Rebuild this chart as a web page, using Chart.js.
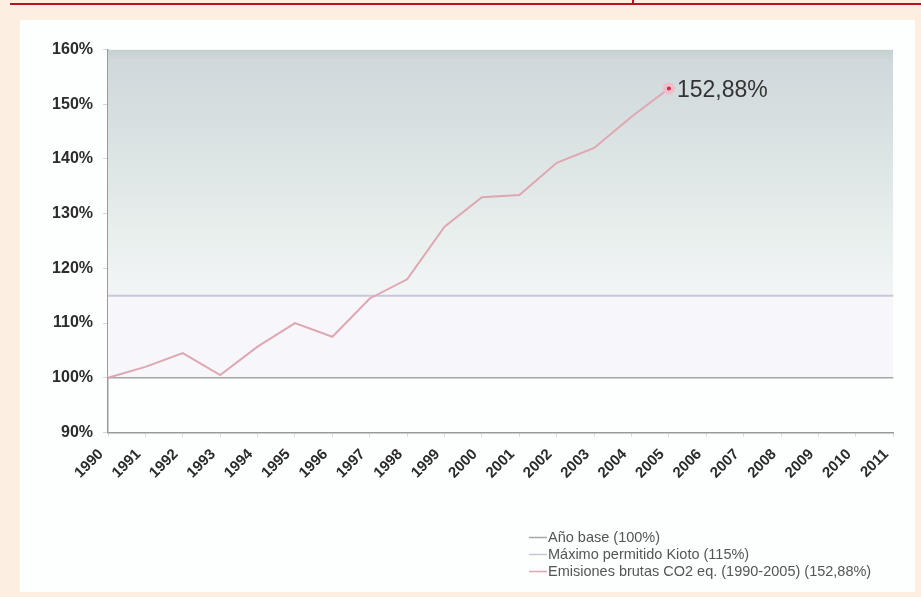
<!DOCTYPE html>
<html lang="es">
<head>
<meta charset="utf-8">
<script src="https://cdn.jsdelivr.net/npm/chart.js@4/dist/chart.umd.min.js"></script>
<style>
  html, body { margin: 0; padding: 0; }
  body { width: 921px; height: 597px; background: #fcefe2; position: relative; overflow: hidden; }
  .raya { position: absolute; left: 10px; right: 0; top: 3px; height: 2px; background: #b8121c; }
  .marca { position: absolute; left: 632px; top: 0; width: 2px; height: 5px; background: #b8121c; }
  .panel { position: absolute; left: 20px; top: 20px; width: 895px; height: 572px; background: #fdfefe; }
  #grafico { display: block; }
</style>
</head>
<body>
<div class="raya"></div>
<div class="marca"></div>
<div class="panel"><canvas id="grafico" width="895" height="572"></canvas></div>
<script>
// años del eje X
const ANIOS = ["1990", "1991", "1992", "1993", "1994", "1995", "1996", "1997", "1998", "1999", "2000",
               "2001", "2002", "2003", "2004", "2005", "2006", "2007", "2008", "2009", "2010", "2011"];

// emisiones brutas CO2 eq. respecto al año base (%)
const EMISIONES = [100, 102, 104.5, 100.5, 105.7, 110, 107.5, 114.5, 118, 127.6, 133,
                   133.4, 139.3, 142, 147.7, 152.88, null, null, null, null, null, null];

const ANIO_BASE = 100;   // año base
const KIOTO = 115;       // máximo permitido por Kioto

const Y_MIN = 90;
const Y_MAX = 160;
const Y_PASO = 10;

const ETIQUETAS = [
    "Año base (100%)",
    "Máximo permitido Kioto (115%)",
    "Emisiones brutas CO2 eq. (1990-2005) (152,88%)"
];

const COLORES = {
    base: "#a6a6a6",
    kioto: "#c9c7da",
    emisiones: "#dfa7b1",
    punto: "#c42c4a",
    texto: "#2b2b2b"
};

const FUENTE = "'Liberation Sans', Arial, sans-serif";

const ultimo = EMISIONES.reduce((acc, v, i) => (v !== null ? i : acc), 0);

function formatoPct(v) {
    return v.toFixed(2).replace(".", ",") + "%";
}

// degradado de la franja por encima del límite de Kioto
function degradadoFranja(context) {
    const chart = context.chart;
    const area = chart.chartArea;
    if (!area) return "#e4ebea";
    const yK = chart.scales.y.getPixelForValue(KIOTO);
    const g = chart.ctx.createLinearGradient(0, area.top, 0, yK);
    g.addColorStop(0, "#c4cfcd");
    g.addColorStop(0.04, "#cfd8db");
    g.addColorStop(0.35, "#d9e1e2");
    g.addColorStop(0.75, "#e8efed");
    g.addColorStop(1, "#f2f5f6");
    return g;
}

// etiqueta del último valor y leyenda
const extras = {
    id: "extras",
    afterDatasetsDraw(chart) {
        const ctx = chart.ctx;
        const meta = chart.getDatasetMeta(2);
        const p = meta.data[ultimo];
        ctx.save();
        ctx.font = "23px " + FUENTE;
        ctx.fillStyle = "#333";
        ctx.textAlign = "left";
        ctx.textBaseline = "middle";
        ctx.fillText(formatoPct(EMISIONES[ultimo]), p.x + 8, p.y + 2);
        ctx.restore();
    },
    afterDraw(chart) {
        const ctx = chart.ctx;
        const colores = [COLORES.base, COLORES.kioto, COLORES.emisiones];
        ctx.save();
        ctx.font = "14.5px " + FUENTE;
        ctx.textBaseline = "middle";
        ETIQUETAS.forEach((txt, i) => {
            const y = 517.5 + i * 17;
            ctx.strokeStyle = colores[i];
            ctx.lineWidth = 1.5;
            ctx.beginPath();
            ctx.moveTo(509, y);
            ctx.lineTo(527, y);
            ctx.stroke();
            ctx.fillStyle = "#555";
            ctx.fillText(txt, 528, y);
        });
        ctx.restore();
    }
};

new Chart(document.getElementById("grafico"), {
    type: "line",
    data: {
        labels: ANIOS,
        datasets: [
            {
                label: ETIQUETAS[0],
                data: ANIOS.map(() => ANIO_BASE),
                borderColor: COLORES.base,
                borderWidth: 1.5,
                backgroundColor: "#f7f6fb",
                fill: "+1",
                pointRadius: 0,
                order: 2
            },
            {
                label: ETIQUETAS[1],
                data: ANIOS.map(() => KIOTO),
                borderColor: COLORES.kioto,
                borderWidth: 2,
                backgroundColor: degradadoFranja,
                fill: "end",
                pointRadius: 0,
                order: 1
            },
            {
                label: ETIQUETAS[2],
                data: EMISIONES,
                borderColor: COLORES.emisiones,
                borderWidth: 2,
                fill: false,
                spanGaps: false,
                pointRadius: ctx => (ctx.dataIndex === ultimo ? 4 : 0),
                pointBackgroundColor: COLORES.punto,
                pointBorderColor: "#f2bcc8",
                pointBorderWidth: 4,
                order: 0
            }
        ]
    },
    options: {
        responsive: false,
        animation: false,
        layout: { padding: { top: 29.5, right: 20, left: 0, bottom: 0 } },
        plugins: {
            legend: { display: false },
            tooltip: { enabled: false }
        },
        scales: {
            x: {
                offset: false,
                grid: { drawOnChartArea: false, tickLength: 4, color: "#d6d6d6" },
                border: { color: "#9a9a9a", width: 1.5 },
                ticks: {
                    autoSkip: false,
                    maxRotation: 45,
                    minRotation: 45,
                    padding: 9,
                    labelOffset: -7,
                    color: COLORES.texto,
                    font: { family: FUENTE, size: 15, weight: "bold" }
                },
                afterFit(scale) { scale.height = 159.5; }
            },
            y: {
                min: Y_MIN,
                max: Y_MAX,
                grid: { drawOnChartArea: false, tickLength: 5, color: "#d6d6d6" },
                border: { color: "#9a9a9a", width: 1.5 },
                ticks: {
                    stepSize: Y_PASO,
                    padding: 10,
                    color: COLORES.texto,
                    font: { family: FUENTE, size: 16, weight: "bold" },
                    callback: v => v + "%"
                },
                afterFit(scale) { scale.width = 88; }
            }
        }
    },
    plugins: [extras]
});
</script>
</body>
</html>
